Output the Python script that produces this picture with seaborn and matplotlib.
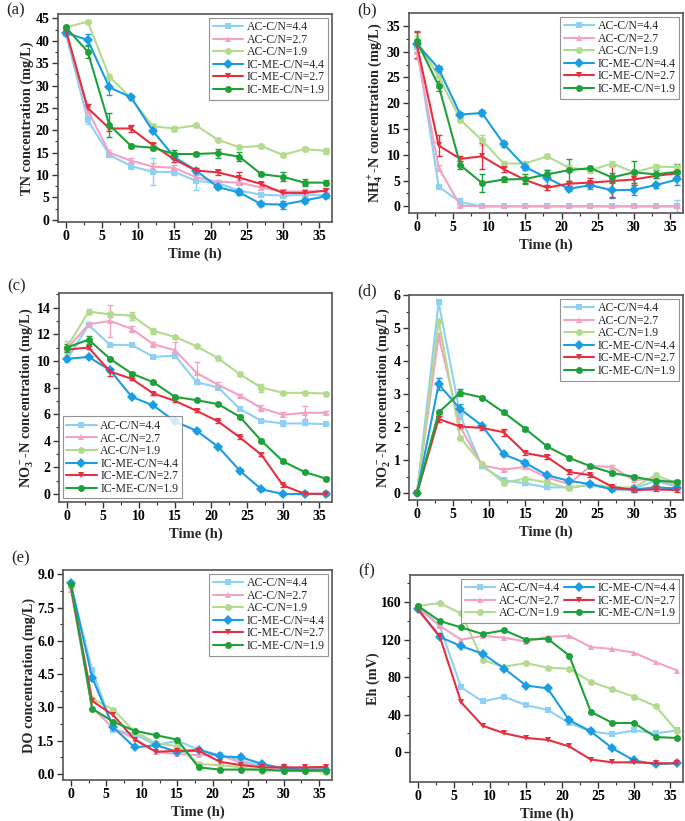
import numpy as np
import pandas as pd
import matplotlib
matplotlib.use("Agg")
import matplotlib.pyplot as plt
import seaborn as sns

# sampling times (h)
time_h = [0, 3, 6, 9, 12, 15, 18, 21, 24, 27, 30, 33, 36]

series_names = ["AC-C/N=4.4", "AC-C/N=2.7", "AC-C/N=1.9",
                "IC-ME-C/N=4.4", "IC-ME-C/N=2.7", "IC-ME-C/N=1.9"]
series_colors = ["#8fd0f5", "#f2a3c4", "#b3db8e", "#1a9de3", "#e5303f", "#1ea13a"]
series_markers = ["s", "^", "o", "D", "v", "o"]

# (a) TN concentration
tn = [
    [41.5, 22.3, 14.5, 12.0, 10.7, 10.7, 8.7, 8.2, 6.5, 5.6, 5.4, 5.6, 5.5],
    [42.0, 24.5, 15.0, 13.2, 11.9, 11.6, 9.5, 8.5, 8.3, 7.2, 6.3, 6.3, 6.5],
    [43.0, 44.3, 32.0, 27.2, 20.9, 20.4, 21.1, 17.9, 16.2, 16.5, 14.5, 15.8, 15.4],
    [41.8, 40.2, 29.6, 27.4, 19.9, 14.0, 11.0, 7.3, 6.1, 3.5, 3.4, 4.3, 5.3],
    [42.3, 25.0, 20.4, 20.4, 16.7, 13.5, 11.0, 10.6, 9.4, 8.0, 6.0, 6.0, 6.5],
    [43.0, 37.6, 21.2, 16.5, 16.1, 14.7, 14.7, 14.9, 14.1, 10.2, 9.6, 8.3, 8.3],
]
tn_err = [
    [0.4, 0.8, 0.5, 0.6, 3.0, 0.6, 2.0, 0.5, 0.4, 0.3, 0.3, 0.3, 0.3],
    [0.4, 0.8, 0.5, 0.6, 0.8, 0.6, 0.6, 0.5, 0.5, 0.4, 0.5, 0.5, 0.4],
    [0.4, 0.4, 0.5, 0.4, 0.4, 0.5, 0.4, 0.4, 0.4, 0.4, 0.4, 0.4, 0.6],
    [0.4, 1.3, 1.8, 0.5, 0.5, 0.5, 0.5, 0.5, 0.5, 0.4, 0.9, 0.5, 0.5],
    [0.4, 0.8, 0.6, 0.8, 0.5, 0.6, 0.5, 0.5, 1.3, 0.5, 0.6, 0.5, 0.5],
    [0.4, 1.5, 2.6, 0.5, 0.5, 0.8, 0.5, 1.0, 1.0, 0.5, 1.0, 0.8, 0.5],
]

# (b) NH4+-N concentration
nh4 = [
    [31.0, 3.8, 0.8, 0.0, 0.0, 0.0, 0.0, 0.0, 0.0, 0.0, 0.0, 0.0, 0.0],
    [30.0, 7.5, 0.1, 0.0, 0.0, 0.0, 0.0, 0.0, 0.0, 0.0, 0.0, 0.0, 0.0],
    [32.0, 25.2, 16.8, 12.8, 8.3, 8.3, 9.7, 7.5, 7.0, 8.3, 6.6, 7.7, 7.6],
    [31.5, 26.7, 17.8, 18.1, 12.1, 7.6, 5.5, 3.4, 4.1, 3.1, 3.2, 4.1, 5.2],
    [31.3, 11.8, 9.2, 9.7, 7.2, 5.1, 3.6, 4.4, 4.6, 4.9, 5.2, 5.9, 6.4],
    [32.0, 23.4, 8.0, 4.5, 5.2, 5.3, 6.2, 7.0, 7.4, 5.6, 6.6, 6.2, 6.7],
]
nh4_err = [
    [0.5, 0.3, 0.8, 0.2, 0.2, 0.2, 0.2, 0.2, 0.2, 0.2, 0.2, 0.2, 1.2],
    [1.5, 0.6, 0.3, 0.2, 0.2, 0.2, 0.2, 0.2, 0.2, 0.2, 0.2, 0.2, 0.3],
    [1.0, 0.8, 0.5, 1.0, 0.4, 0.5, 0.4, 0.5, 0.5, 0.5, 0.5, 0.5, 0.5],
    [0.5, 0.5, 0.5, 0.5, 0.5, 0.6, 1.6, 0.5, 0.8, 1.5, 1.0, 0.5, 1.0],
    [2.5, 2.0, 0.5, 2.5, 0.5, 0.5, 0.5, 0.5, 0.8, 3.0, 1.0, 0.5, 0.5],
    [2.0, 1.0, 0.8, 1.7, 0.5, 1.0, 0.8, 2.1, 0.5, 0.8, 2.1, 0.8, 1.5],
]

# (c) NO3--N concentration
no3 = [
    [10.1, 12.7, 11.2, 11.2, 10.3, 10.4, 8.4, 8.0, 6.4, 5.5, 5.3, 5.3, 5.25],
    [10.9, 12.75, 13.0, 12.4, 11.25, 10.8, 9.1, 8.2, 7.4, 6.45, 5.95, 6.1, 6.1],
    [11.0, 13.7, 13.5, 13.4, 12.25, 11.8, 11.1, 10.2, 9.0, 8.0, 7.6, 7.6, 7.55],
    [10.15, 10.3, 9.3, 7.3, 6.65, 5.45, 4.75, 3.55, 1.75, 0.35, 0.0, 0.0, 0.0],
    [10.85, 11.0, 9.2, 8.65, 7.55, 7.0, 6.25, 5.45, 4.25, 2.95, 0.65, 0.02, 0.02],
    [11.0, 11.6, 10.15, 9.05, 8.4, 7.3, 7.05, 6.75, 5.8, 4.0, 2.45, 1.65, 1.15],
]
no3_err = [
    [0.1, 0.1, 0.1, 0.1, 0.1, 0.1, 0.1, 0.1, 0.1, 0.1, 0.2, 0.1, 0.1],
    [0.2, 0.2, 1.2, 0.2, 0.2, 0.6, 0.8, 0.2, 0.1, 0.2, 0.2, 0.5, 0.1],
    [0.5, 0.2, 0.2, 0.3, 0.2, 0.1, 0.1, 0.1, 0.1, 0.3, 0.1, 0.1, 0.1],
    [0.1, 0.1, 0.1, 0.1, 0.1, 0.1, 0.1, 0.1, 0.1, 0.1, 0.1, 0.1, 0.1],
    [0.1, 0.1, 0.3, 0.1, 0.1, 0.1, 0.1, 0.1, 0.1, 0.1, 0.1, 0.1, 0.1],
    [0.3, 0.3, 0.1, 0.1, 0.1, 0.1, 0.1, 0.1, 0.1, 0.1, 0.1, 0.1, 0.1],
]

# (d) NO2--N concentration
no2 = [
    [0.0, 5.78, 2.35, 0.82, 0.4, 0.3, 0.18, 0.18, 0.25, 0.15, 0.15, 0.38, 0.2],
    [0.0, 4.75, 2.0, 0.85, 0.72, 0.8, 0.48, 0.28, 0.83, 0.8, 0.4, 0.45, 0.25],
    [0.0, 5.22, 1.68, 0.88, 0.32, 0.45, 0.33, 0.15, 0.28, 0.18, 0.18, 0.55, 0.3],
    [0.0, 3.3, 2.55, 2.05, 1.18, 0.92, 0.55, 0.38, 0.28, 0.12, 0.12, 0.18, 0.15],
    [0.0, 2.25, 2.02, 1.98, 1.85, 1.22, 1.1, 0.65, 0.55, 0.2, 0.1, 0.12, 0.1],
    [0.0, 2.45, 3.05, 2.9, 2.45, 1.95, 1.42, 1.08, 0.82, 0.62, 0.5, 0.38, 0.35],
]
no2_err = [
    [0.0, 0.05, 0.1, 0.05, 0.05, 0.05, 0.05, 0.05, 0.05, 0.05, 0.05, 0.05, 0.05],
    [0.0, 0.1, 0.05, 0.05, 0.05, 0.05, 0.05, 0.05, 0.05, 0.05, 0.05, 0.05, 0.05],
    [0.0, 0.05, 0.05, 0.05, 0.05, 0.05, 0.05, 0.05, 0.05, 0.05, 0.05, 0.05, 0.05],
    [0.0, 0.18, 0.15, 0.05, 0.05, 0.1, 0.05, 0.05, 0.05, 0.05, 0.05, 0.05, 0.05],
    [0.0, 0.08, 0.05, 0.05, 0.1, 0.05, 0.05, 0.05, 0.05, 0.05, 0.05, 0.05, 0.05],
    [0.0, 0.05, 0.1, 0.05, 0.05, 0.05, 0.05, 0.05, 0.05, 0.05, 0.05, 0.05, 0.05],
]

# (e) DO concentration
do = [
    [8.5, 4.7, 2.0, 1.8, 1.3, 1.5, 1.1, 0.85, 0.6, 0.35, 0.25, 0.2, 0.2],
    [8.3, 3.0, 2.05, 1.6, 1.0, 0.9, 0.85, 0.85, 0.5, 0.3, 0.25, 0.25, 0.25],
    [8.5, 3.4, 2.9, 1.9, 1.4, 1.25, 0.45, 0.4, 0.3, 0.15, 0.15, 0.15, 0.1],
    [8.6, 4.35, 2.1, 1.2, 1.3, 1.0, 1.1, 0.8, 0.75, 0.45, 0.25, 0.2, 0.2],
    [8.45, 3.3, 2.65, 1.55, 1.0, 1.05, 1.05, 0.55, 0.4, 0.3, 0.3, 0.3, 0.32],
    [8.55, 2.95, 2.35, 1.95, 1.75, 1.55, 0.3, 0.2, 0.2, 0.2, 0.15, 0.15, 0.15],
]

# (f) Eh
eh = [
    [155, 135, 69, 54, 59, 50, 45, 31, 22, 19, 23, 20, 23],
    [154, 135, 120, 124, 122, 118, 123, 124, 112, 110, 106, 96, 87],
    [156, 159, 148, 98, 91, 95, 90, 89, 75, 67, 59, 49, 22],
    [153, 123, 113, 105, 89, 71, 68, 34, 22, 4, -9, -13, -12],
    [152, 124, 53, 28, 20, 15, 13, 6, -8, -11, -11, -12, -12],
    [156, 140, 133, 126, 130, 120, 121, 103, 43, 31, 31, 16, 15],
]

sns.set_theme(style="ticks")
plt.rcParams["font.family"] = ["Liberation Serif", "DejaVu Serif"]
plt.rcParams["mathtext.fontset"] = "custom"
plt.rcParams["mathtext.rm"] = "Liberation Serif:bold"
plt.rcParams["mathtext.it"] = "Liberation Serif:bold"
plt.rcParams["mathtext.bf"] = "Liberation Serif:bold"

fig = plt.figure(figsize=(6.85, 8.21), dpi=100)

# axes frames in pixels: left, top, right, bottom; plus panel-tag offset above the frame
boxes = [
    (58, 14, 332, 222, 12),
    (409, 13, 683, 213, 11),
    (59, 293, 332, 502, 15),
    (409, 295, 683, 500, 12),
    (63, 570, 332, 780, 20),
    (410, 575, 683, 782, 12),
]
W, H = 685, 821

panels = [
    ("(a)", tn, tn_err, "TN concentration (mg/L)", (-0.5, 46), np.arange(0, 46, 5), 2.5, "upper right", 1),
    ("(b)", nh4, nh4_err, r"NH$_4^+$-N concentration (mg/L)", (-1.3, 37.5), np.arange(0, 36, 5), 2.5, "upper right", 1),
    ("(c)", no3, no3_err, r"NO$_3^-$-N concentration (mg/L)", (-0.6, 15.1), np.arange(0, 15, 2), 1, "lower left", 1),
    ("(d)", no2, no2_err, r"NO$_2^-$-N concentration (mg/L)", (-0.2, 6.0), np.arange(0, 7, 1), 0.5, "upper right", 1),
    ("(e)", do, None, "DO concentration (mg/L)", (-0.27, 9.2), np.arange(0, 9.1, 1.5), 0.75, "upper right", 1),
    ("(f)", eh, None, "Eh (mV)", (-32, 189), np.arange(0, 161, 40), 20, "upper right", 2),
]

for box, (tag, vals, errs, ylab, ylim, yticks, yminor, loc, ncol) in zip(boxes, panels):
    x0, y0, x1, y1, toff = box
    ax = fig.add_axes([x0 / W, 1 - y1 / H, (x1 - x0) / W, (y1 - y0) / H])

    df = pd.DataFrame({
        "Time": np.tile(time_h, len(series_names)),
        "value": np.concatenate(vals),
        "series": np.repeat(series_names, len(time_h)),
    })
    sns.lineplot(data=df, x="Time", y="value", hue="series", style="series",
                 hue_order=series_names, style_order=series_names,
                 palette=series_colors, markers=series_markers, dashes=False,
                 markersize=5, linewidth=1.5, markeredgewidth=0, ax=ax)

    if errs is not None:
        for v, e, c in zip(vals, errs, series_colors):
            ax.errorbar(time_h, v, yerr=e, fmt="none", ecolor=c,
                        elinewidth=1, capsize=2, capthick=1, zorder=1)

    ax.set_xlim(-1.1, 36.8)
    ax.set_ylim(*ylim)
    ax.set_xticks(np.arange(0, 36, 5))
    ax.set_xticks(np.arange(0, 37, 2.5), minor=True)
    ax.set_yticks(yticks)
    ax.set_yticks(np.arange(0, ylim[1], yminor), minor=True)
    if tag == "(e)":
        ax.set_yticklabels([f"{t:.1f}" for t in yticks])
    ax.tick_params(axis="both", which="major", length=4, width=1, labelsize=10,
                   colors="#333333", labelcolor="black", pad=2)
    ax.tick_params(axis="both", which="minor", length=2, width=0.8, colors="#333333")
    for lab in ax.get_xticklabels() + ax.get_yticklabels():
        lab.set_fontweight("bold")
    for sp in ax.spines.values():
        sp.set_visible(True)
        sp.set_color("#555555")
        sp.set_linewidth(1.2)

    ax.set_xlabel("Time (h)", fontsize=10.5, fontweight="bold", labelpad=3)
    ax.set_ylabel(ylab, fontsize=10.3, fontweight="bold", labelpad=1)

    leg = ax.legend(loc=loc, ncol=ncol, fontsize=8.5, frameon=True, fancybox=False,
                    handlelength=2.6, handletextpad=0.3, labelspacing=0.05,
                    columnspacing=0.3, borderpad=0.3, borderaxespad=0.3)
    leg.get_frame().set_edgecolor("#777777")
    leg.get_frame().set_linewidth(0.8)

    fig.text(x0 / W - 0.075, 1 - (y0 - toff) / H, tag, fontsize=12, va="top", ha="left")

plt.savefig("out.png", dpi=100)
plt.close()
